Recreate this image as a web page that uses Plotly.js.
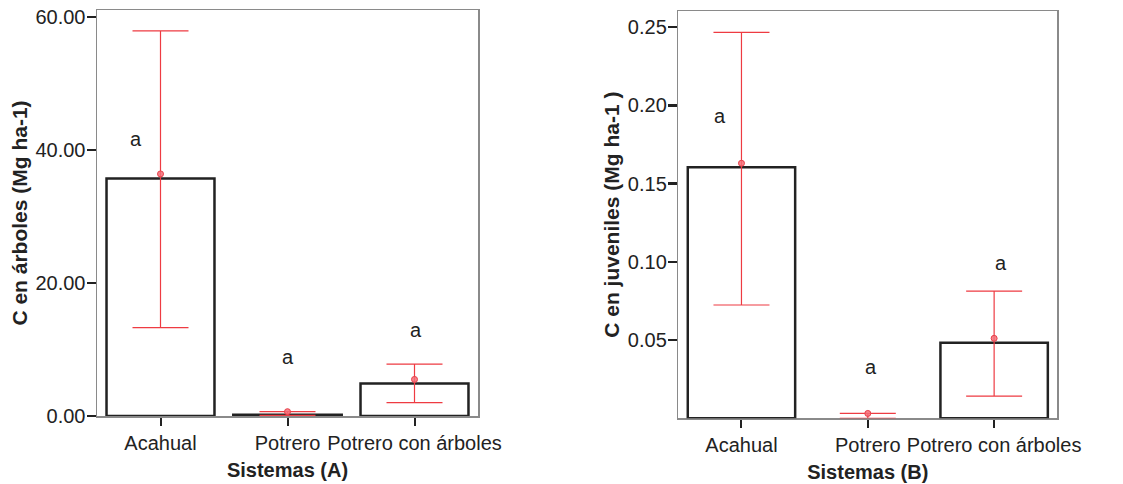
<!DOCTYPE html>
<html>
<head>
<meta charset="utf-8">
<script src="https://cdn.plot.ly/plotly-3.0.1.min.js"></script>
<style>html,body{margin:0;padding:0;background:#fff;}#chart{width:1123px;height:484px;}</style>
</head>
<body>
<div id="chart"></div>
<script>
var categories = ['Acahual', 'Potrero', 'Potrero con árboles'];

// Panel A: C en árboles (Mg ha-1)
var barA = [35.7, 0.15, 4.9];
var meanA = [36.4, 0.65, 5.5];
var upperA = [57.9, 0.65, 7.8];
var lowerA = [13.3, 0.1, 2.0];
var lettersA = ['a', 'a', 'a'];
var letterYA = [41.6, 8.9, 12.9];
var tickValsA = [0, 20, 40, 60];

// Panel B: C en juveniles (Mg ha-1)
var barB = [0.1604, 0, 0.0483];
var meanB = [0.163, 0.0031, 0.0511];
var upperB = [0.2467, 0.0031, 0.0813];
var lowerB = [0.0724, 0, 0.0142];
var lettersB = ['a', 'a', 'a'];
var letterYB = [0.1932, 0.0329, 0.099];
var tickValsB = [0.05, 0.10, 0.15, 0.20, 0.25];

var FONT = 'Liberation Sans, Arial, sans-serif';
var RED = '#ee3b42';

function barTrace(y, xa, ya, lw) {
  return {
    type: 'bar', x: categories, y: y, xaxis: xa, yaxis: ya,
    width: 0.85,
    marker: {color: 'rgba(255,255,255,0)', line: {color: '#222', width: lw}},
    hoverinfo: 'skip', showlegend: false
  };
}
function errTrace(mean, up, lo, xa, ya) {
  return {
    type: 'scatter', mode: 'markers', x: categories, y: mean, xaxis: xa, yaxis: ya,
    marker: {color: 'rgba(244,110,120,0.85)', size: 6, line: {color: '#e8404a', width: 1}},
    error_y: {
      type: 'data', symmetric: false,
      array: up.map(function (u, i) { return u - mean[i]; }),
      arrayminus: lo.map(function (l, i) { return mean[i] - l; }),
      color: RED, thickness: 1.2, width: 28
    },
    cliponaxis: false, showlegend: false
  };
}

var data = [
  barTrace(barA, 'x', 'y', [2.5, 3, 2.5]),
  errTrace(meanA, upperA, lowerA, 'x', 'y'),
  barTrace(barB, 'x2', 'y2', [2.5, 0, 2.5]),
  errTrace(meanB, upperB, lowerB, 'x2', 'y2')
];

var shiftA = [-25, 0, 1];
var shiftB = [-21, 3, 7];
var annotations = [];
categories.forEach(function (c, i) {
  annotations.push({x: c, y: letterYA[i], xref: 'x', yref: 'y', text: lettersA[i], showarrow: false,
    xshift: shiftA[i], font: {family: FONT, size: 20, color: '#222'}});
  annotations.push({x: c, y: letterYB[i], xref: 'x2', yref: 'y2', text: lettersB[i], showarrow: false,
    xshift: shiftB[i], font: {family: FONT, size: 20, color: '#222'}});
});

function xAxis(domain, title, anchor) {
  return {
    domain: domain, anchor: anchor, type: 'category', range: [-0.5, 2.5],
    showline: true, linecolor: '#8a8a8a', linewidth: 1.5, mirror: true,
    ticks: 'outside', ticklen: 8, tickwidth: 2, tickcolor: '#222',
    tickfont: {family: FONT, size: 20, color: '#222'},
    showgrid: false, zeroline: false, layer: 'below traces',
    title: {text: title, font: {family: FONT, size: 20, color: '#222', weight: 'bold'}, standoff: 10}
  };
}
function yAxis(domain, range, tickvals, title, anchor) {
  return {
    domain: domain, anchor: anchor, range: range, tickmode: 'array', tickvals: tickvals,
    tickformat: '.2f',
    showline: true, linecolor: '#8a8a8a', linewidth: 1.5, mirror: true,
    ticks: 'outside', ticklen: 9, tickwidth: 2.5, tickcolor: '#222',
    tickfont: {family: FONT, size: 20, color: '#222'},
    ticklabelstandoff: -3,
    showgrid: false, zeroline: false, layer: 'below traces',
    title: {text: title, font: {family: FONT, size: 21, color: '#222', weight: 'bold'}, standoff: 2}
  };
}

var layout = {
  width: 1123, height: 484,
  margin: {l: 0, r: 0, t: 0, b: 0},
  paper_bgcolor: '#fff', plot_bgcolor: '#fff',
  showlegend: false, bargap: 0,
  xaxis: xAxis([97 / 1123, 478 / 1123], 'Sistemas (A)', 'y'),
  yaxis: yAxis([1 - 416 / 484, 1 - 10 / 484], [0, 61.05], tickValsA, 'C en árboles (Mg ha-1)', 'x'),
  xaxis2: xAxis([678.3 / 1123, 1057.3 / 1123], 'Sistemas (B)', 'y2'),
  yaxis2: yAxis([1 - 418.3 / 484, 1 - 11 / 484], [0, 0.2603], tickValsB, 'C en juveniles (Mg ha-1 )', 'x2'),
  annotations: annotations
};

Plotly.newPlot('chart', data, layout, {displayModeBar: false, staticPlot: true});
</script>
</body>
</html>
